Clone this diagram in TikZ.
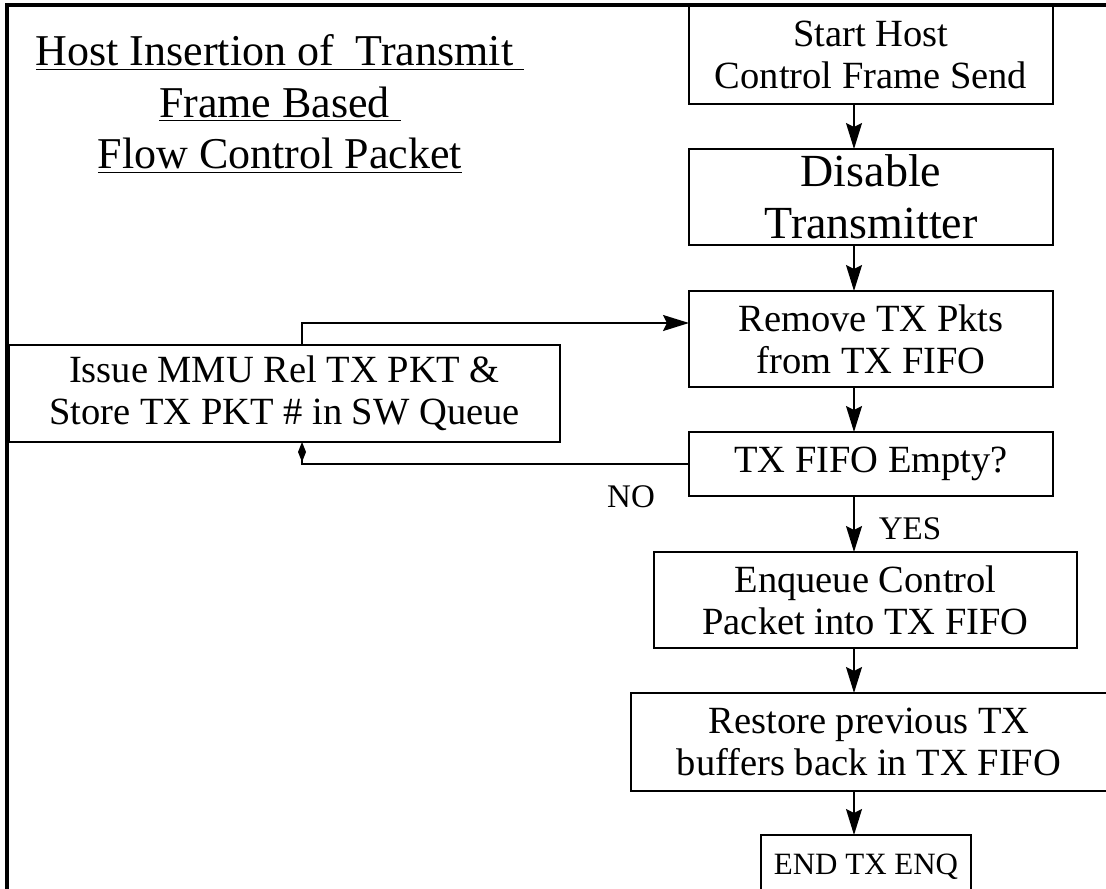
\documentclass[tikz,border=0pt]{standalone}
\usepackage{fontspec}
\setmainfont{Liberation Serif}
\usetikzlibrary{arrows.meta, positioning}

\begin{document}
\begin{tikzpicture}[
    x=0.5pt, y=-0.5pt,
    node distance=22.5pt,
    line width=0.8pt,
    >={Stealth[length=13pt, width=8pt, inset=2pt]},
    stage/.style={rectangle, draw, fill=white, align=center, minimum width=182pt, minimum height=48pt, inner sep=2pt, outer sep=0pt, font=\fontsize{19.25}{21}\selectfont},
    branch/.style={inner sep=0pt, font=\fontsize{16.5}{18}\selectfont}
]
\useasboundingbox (0,0) rectangle (1106,888);

% Frame
\draw[line width=1.6pt] (7,892) -- (7,5) -- (1110,5);

% Title
\node[align=center, inner sep=0pt, font=\fontsize{22}{25.75}\selectfont] (title) at (280,104)
    {\underline{Host Insertion of\ \ Transmit\ }\\\underline{Frame Based\ }\\\underline{Flow Control Packet}};

% Main flow
\node[stage, minimum height=49pt] (start) at (871,55) {Start Host\\Control Frame Send};
\node[stage, below=of start, font=\fontsize{23}{26}\selectfont] (disable) {Disable\\Transmitter};
\node[stage, below=23pt of disable] (remove) {Remove TX Pkts\\from TX FIFO};
\node[stage, below=of remove, minimum height=32pt] (empty) {TX FIFO Empty?};
\node[stage, below=28pt of empty, xshift=-2.75pt, minimum width=211.5pt] (enqueue) {Enqueue Control\\Packet into TX FIFO};
\node[stage, below=of enqueue, xshift=1.75pt, minimum width=238pt, minimum height=49pt] (restore) {Restore previous TX\\buffers back in TX FIFO};
\node[stage, below=22pt of restore, xshift=-1.5pt, minimum width=105pt, minimum height=32pt, font=\fontsize{15.5}{17}\selectfont] (done) {END TX ENQ};

% Release loop
\node[stage, left=64.5pt of remove, yshift=-27.25pt, minimum width=275.5pt, minimum height=48.5pt] (issue) {Issue MMU Rel TX PKT \&\\Store TX PKT \# in SW Queue};

% Branch labels
\node[branch] (no) at (631,497) {NO};
\node[branch] (yes) at (910,529) {YES};

% Arrows
\coordinate (spine) at (854,0);
\coordinate (loop) at (302,323);
\draw[->] (start.south -| spine) -- (disable.north -| spine);
\draw[->] (disable.south -| spine) -- (remove.north -| spine);
\draw[->] (remove.south -| spine) -- (empty.north -| spine);
\draw[->] (empty.south -| spine) -- (enqueue.north -| spine);
\draw[->] (enqueue.south -| spine) -- (restore.north -| spine);
\draw[->] (restore.south -| spine) -- (done.north -| spine);
\draw[->] (issue.north -| loop) |- (remove.west |- loop);
\draw[-{Diamond[length=10pt, width=4pt]}] (empty.west) -| (issue.south -| loop);

\end{tikzpicture}
\end{document}
